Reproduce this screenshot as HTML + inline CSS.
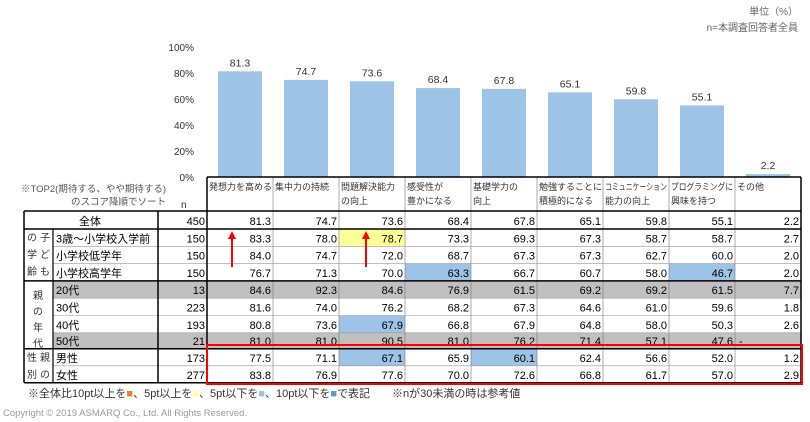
<!DOCTYPE html>
<html><head><meta charset="utf-8"><style>
body{margin:0;background:#fff;}
svg{display:block;font-family:"Liberation Sans","Noto Sans CJK JP",sans-serif;}
</style></head><body>
<svg id="c" width="810" height="422"></svg>
<script>
const categories=["発想力を高める","集中力の持続","問題解決能力|の向上","感受性が|豊かになる","基礎学力の|向上","勉強することに|積極的になる","コミュニケーション|能力の向上","プログラミングに|興味を持つ","その他"];
const overall=[81.3,74.7,73.6,68.4,67.8,65.1,59.8,55.1,2.2];
const yTicks=[0,20,40,60,80,100];
const rowLabels=["3歳～小学校入学前","小学校低学年","小学校高学年","20代","30代","40代","50代","男性","女性"];
const rowN=[150,150,150,13,223,193,21,173,277];
const r1=[83.3,78.0,78.7,73.3,69.3,67.3,58.7,58.7,2.7];
const r2=[84.0,74.7,72.0,68.7,67.3,67.3,62.7,60.0,2.0];
const r3=[76.7,71.3,70.0,63.3,66.7,60.7,58.0,46.7,2.0];
const r4=[84.6,92.3,84.6,76.9,61.5,69.2,69.2,61.5,7.7];
const r5=[81.6,74.0,76.2,68.2,67.3,64.6,61.0,59.6,1.8];
const r6=[80.8,73.6,67.9,66.8,67.9,64.8,58.0,50.3,2.6];
const r7=[81.0,81.0,90.5,81.0,76.2,71.4,57.1,47.6,null];
const r8=[77.5,71.1,67.1,65.9,60.1,62.4,56.6,52.0,1.2];
const r9=[83.8,76.9,77.6,70.0,72.6,66.8,61.7,57.0,2.9];
const rows=[r1,r2,r3,r4,r5,r6,r7,r8,r9];
const NS="http://www.w3.org/2000/svg";
const svg=document.getElementById('c');
function el(t,a,txt){const e=document.createElementNS(NS,t);for(const k in a)e.setAttribute(k,a[k]);if(txt!=null)e.textContent=txt;svg.appendChild(e);return e;}
const x0=207,cw=66,y0=177,y100=47;
const xs=i=>x0+i*cw;
const ys=v=>y0-(v/100)*(y0-y100);
let t=el('text',{x:798,y:15,'font-size':10,fill:'#666','text-anchor':'end'},'単位（%）');

t=el('text',{x:798,y:31,'font-size':10,fill:'#666','text-anchor':'end'},'n=本調査回答者全員');

yTicks.forEach(v=>{const e=el('text',{x:194,y:ys(v)+4,'font-size':10,fill:'#333','text-anchor':'end'},v+'%');
});
overall.forEach((v,i)=>{
 const b=el('rect',{x:xs(i)+11,y:ys(v),width:44,height:y0-ys(v),fill:'#9dc3e6'});
 
 const l=el('text',{x:xs(i)+33,y:ys(v)-5,'font-size':10.5,fill:'#333','text-anchor':'middle'},v.toFixed(1));
 
});
const hTop=177,hBot=211,rTop=229,rh=[17.3,17.3,17.3,17.3,17.3,17.3,16,17,17];
let rowY=[];let yy=rTop;rh.forEach(h=>{rowY.push(yy);yy+=h;});const tBot=yy;
[3,6].forEach(r=>{const g=el('rect',{x:53,y:rowY[r],width:748,height:rh[r],fill:'#c0c0c0'});});
const hl={"0,2":'#ffff99',"2,3":'#9dc3e6',"2,7":'#9dc3e6',"5,2":'#9dc3e6',"7,2":'#9dc3e6',"7,4":'#9dc3e6'};
for(const k in hl){const [r,c]=k.split(',').map(Number);const e=el('rect',{x:xs(c),y:rowY[r],width:cw,height:rh[r],fill:hl[k]});}
categories.forEach((c,i)=>{c.split('|').forEach((s,j)=>{const e=el('text',{x:xs(i)+2,y:190+j*14,'font-size':9,fill:'#333',textLength:s.length>7?62:null});if(s.length<=7)e.removeAttribute('textLength');else e.setAttribute('lengthAdjust','spacingAndGlyphs');e.textContent=s;});});
t=el('text',{x:166,y:192,'font-size':9.5,fill:'#555','text-anchor':'end'},'※TOP2(期待する、やや期待する)');
t=el('text',{x:166,y:205,'font-size':9.5,fill:'#555','text-anchor':'end'},'のスコア降順でソート');
t=el('text',{x:181,y:208,'font-size':10,fill:'#333'},'n');
t=el('text',{x:90,y:rTop-4,'font-size':11,fill:'#000','text-anchor':'middle'},'全体');
t=el('text',{x:205,y:rTop-4,'font-size':11,fill:'#000','text-anchor':'end'},'450');
overall.forEach((v,i)=>{const e=el('text',{x:xs(i)+cw-2,y:rTop-4,'font-size':11,fill:'#000','text-anchor':'end'},v.toFixed(1));});
rows.forEach((r,ri)=>{const by=rowY[ri]+rh[ri]-4;
 let e=el('text',{x:56,y:by,'font-size':11,fill:'#000'},rowLabels[ri]);
 e=el('text',{x:205,y:by,'font-size':11,fill:'#000','text-anchor':'end'},rowN[ri]);
 r.forEach((v,i)=>{e=el('text',{x:xs(i)+cw-2,y:by,'font-size':11,fill:'#000','text-anchor':'end'},v==null?'-':v.toFixed(1));if(v==null)e.setAttribute('x',xs(i)+4),e.removeAttribute('text-anchor');});
});
[[['の','学','齢'],['子','ど','も'],rowY[0]],[['性','別'],['親','の'],rowY[7]]].forEach(g=>{g[0].forEach((s,j)=>{const e=el('text',{x:27,y:g[2]+12+j*17,'font-size':10,fill:'#333'},s);});g[1].forEach((s,j)=>{const e=el('text',{x:40,y:g[2]+12+j*17,'font-size':10,fill:'#333'},s);});});
['親','の','年','代'].forEach((s,j)=>{const e=el('text',{x:33,y:rowY[3]+18+j*16,'font-size':10,fill:'#333'},s);});
const line=(a,b,c,d,w,col)=>{const e=el('line',{x1:a,y1:b,x2:c,y2:d,stroke:col||'#000','stroke-width':w});};
for(let i=1;i<9;i++)line(xs(i),hTop,xs(i),tBot,0.6,'#777');
rowY.forEach((y,i)=>{if(i>0)line(53,y,801,y,0.6,'#999');});
[hBot,rTop,rowY[3],rowY[7]].forEach(y=>line(24,y,801,y,1.5));
line(24,hBot,24,tBot,1.5);line(53,rTop,53,tBot,1.2);line(158,hBot,158,tBot,1.5);line(207,hTop,207,tBot,1.5);line(801,hTop,801,tBot,1.5);
line(207,hTop,801,hTop,1.5);line(24,tBot,801,tBot,1.5);
t=el('rect',{x:207,y:345,width:595,height:39,fill:'none',stroke:'#ff0000','stroke-width':2});
[232,366].forEach(x=>{let e=el('line',{x1:x,y1:267,x2:x,y2:237,stroke:'#ff0000','stroke-width':2});
 e=el('polygon',{points:`${x-4},239 ${x+4},239 ${x},231`,fill:'#ff0000'});});
t=el('text',{x:28,y:397,'font-size':11,fill:'#333'});
t.innerHTML='※全体比10pt以上を<tspan fill="#ed7d31">■</tspan>、5pt以上を<tspan fill="#ffff99">■</tspan>、5pt以下を<tspan fill="#9dc3e6">■</tspan>、10pt以下を<tspan fill="#5b9bd5">■</tspan>で表記　　※nが30未満の時は参考値';
t=el('text',{x:3,y:416,'font-size':9.5,fill:'#999'},'Copyright © 2019 ASMARQ Co., Ltd. All Rights Reserved.');
</script>
</body></html>
